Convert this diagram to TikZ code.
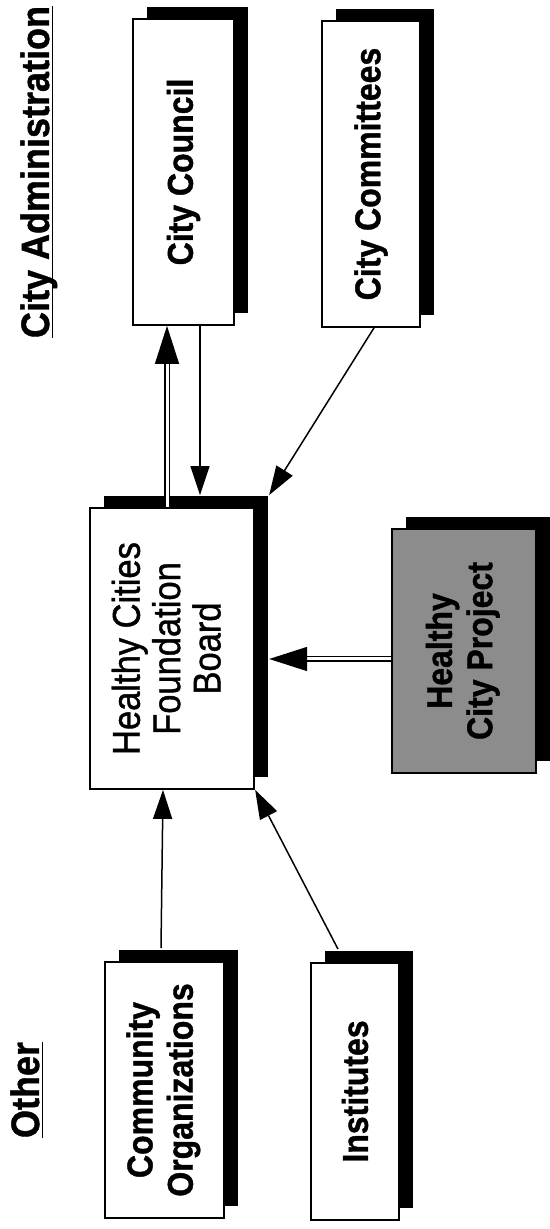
\documentclass[tikz,border=0pt]{standalone}
\usepackage{fontspec}
\usepackage{graphicx}
\setmainfont{Liberation Sans}[BoldFeatures={FakeBold=1.2}]
\newfontfamily\boardfont{Liberation Sans}[FakeBold=1.2]
\usetikzlibrary{arrows.meta,shadows}
\newcommand{\vtext}[1]{\rotatebox{90}{\scalebox{1}[1.12]{#1}}}
\begin{document}
\begin{tikzpicture}[x=1pt,y=1pt,
  box/.style={draw, line width=1.8pt, fill=white, inner sep=0pt,
    drop shadow={shadow xshift=14pt, shadow yshift=12pt, fill=black, opacity=1},
    font=\fontsize{32}{40}\selectfont\bfseries},
  shaded/.style={box, fill=black!45},
  header/.style={rotate=90, anchor=base, inner sep=0pt, font=\fontsize{36}{40}\selectfont\bfseries},
  link/.style={line width=1.5pt, -{Triangle[length=29pt,width=19pt]}},
  biglink/.style={double, line width=1.4pt, double distance=3pt, -{Triangle[length=38pt,width=24pt]}}
]
\useasboundingbox (0,0) rectangle (549,1229);
\fill[white] (0,0) rectangle (549,1229);

% headers
\node[header] (adm) at (49,1057) {\scalebox{1}[1.1]{City Administration}};
\draw[line width=1.5pt] ([xshift=3.5pt]adm.base west) -- ([xshift=3.5pt]adm.base east);
\node[header] (other) at (39,139) {\scalebox{1}[1.1]{Other}};
\draw[line width=1.5pt] ([xshift=3.5pt]other.base west) -- ([xshift=3.5pt]other.base east);

% boxes
\node[box, minimum width=101pt, minimum height=306pt] (council) at (183.5,1057) {\vtext{City Council}};
\node[box, minimum width=98pt, minimum height=306pt] (committees) at (371,1055) {\vtext{City Committees}};
\node[box, minimum width=164.5pt, minimum height=281pt, font=\boardfont\fontsize{34.5}{36}\selectfont] (board) at (172,580.5)
  {\vtext{\begin{tabular}{@{}c@{}}Healthy Cities\\Foundation\\Board\end{tabular}}};
\node[shaded, minimum width=143.5pt, minimum height=244pt, font=\fontsize{32}{36}\selectfont\bfseries] (project) at (464,578)
  {\vtext{\begin{tabular}{@{}c@{}}Healthy\\City Project\end{tabular}}};
\node[box, minimum width=119pt, minimum height=256pt, font=\fontsize{32}{36}\selectfont\bfseries] (community) at (164.5,139)
  {\vtext{\begin{tabular}{@{}c@{}}Community\\Organizations\end{tabular}}};
\node[box, minimum width=87.5pt, minimum height=257pt] (institutes) at (355,137.5) {\vtext{Institutes}};

% connectors
\draw[biglink] ([xshift=-5pt]board.north) -- ([xshift=-16.5pt]council.south);
\draw[link] ([xshift=16.5pt]council.south) -- ([xshift=28pt,yshift=12pt]board.north);
\draw[link] ([xshift=3pt]committees.south) -- ([xshift=14pt,yshift=12pt]board.north east);
\coordinate (bshadowE) at ([xshift=14pt]board.east);
\coordinate (pin) at ([yshift=-8pt]project.west);
\draw[biglink] (pin) -- (pin -| bshadowE);
\draw[link] ([xshift=-3.5pt,yshift=13pt]community.north) -- ([xshift=-9pt]board.south);
\draw[link] ([xshift=-17pt,yshift=13pt]institutes.north) -- (board.south east);
\end{tikzpicture}
\end{document}
